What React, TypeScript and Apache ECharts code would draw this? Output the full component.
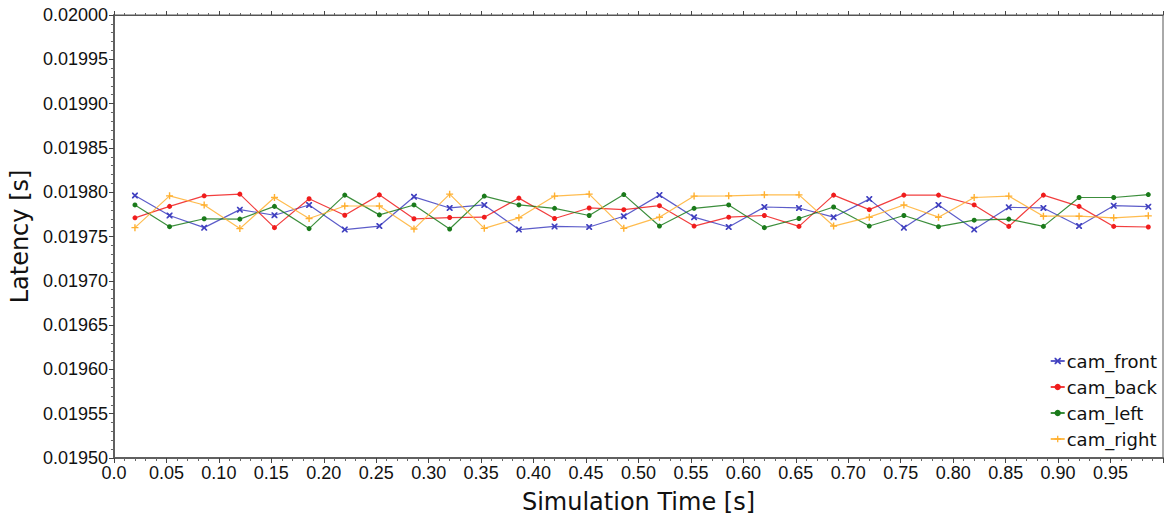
import React, { useEffect, useRef } from "react";
import * as echarts from "echarts";

const times = [
  0.020, 0.053, 0.086, 0.120, 0.153, 0.186, 0.220, 0.253, 0.286, 0.320,
  0.353, 0.386, 0.420, 0.453, 0.486, 0.520, 0.553, 0.586, 0.620, 0.653,
  0.686, 0.720, 0.753, 0.786, 0.820, 0.853, 0.886, 0.920, 0.953, 0.986,
];

const camFront = [
  0.0197962, 0.0197737, 0.0197600, 0.0197803, 0.0197740, 0.0197856, 0.0197578, 0.0197618, 0.0197948, 0.0197822,
  0.0197856, 0.0197578, 0.0197614, 0.0197607, 0.0197729, 0.0197967, 0.0197718, 0.0197607, 0.0197833, 0.0197822,
  0.0197718, 0.0197922, 0.0197600, 0.0197856, 0.0197578, 0.0197829, 0.0197822, 0.0197618, 0.0197848, 0.0197837,
];

const camBack = [
  0.0197711, 0.0197840, 0.0197959, 0.0197978, 0.0197600, 0.0197926, 0.0197740, 0.0197970, 0.0197700, 0.0197714,
  0.0197718, 0.0197933, 0.0197703, 0.0197822, 0.0197803, 0.0197848, 0.0197618, 0.0197718, 0.0197737, 0.0197614,
  0.0197967, 0.0197803, 0.0197967, 0.0197967, 0.0197856, 0.0197614, 0.0197967, 0.0197840, 0.0197614, 0.0197607,
];

const camLeft = [
  0.0197856, 0.0197611, 0.0197700, 0.0197696, 0.0197840, 0.0197589, 0.0197967, 0.0197744, 0.0197856, 0.0197584,
  0.0197956, 0.0197856, 0.0197818, 0.0197737, 0.0197973, 0.0197618, 0.0197818, 0.0197856, 0.0197600, 0.0197703,
  0.0197833, 0.0197618, 0.0197737, 0.0197611, 0.0197684, 0.0197696, 0.0197614, 0.0197940, 0.0197940, 0.0197973,
];

const camRight = [
  0.0197600, 0.0197959, 0.0197856, 0.0197589, 0.0197940, 0.0197703, 0.0197844, 0.0197844, 0.0197584, 0.0197978,
  0.0197592, 0.0197711, 0.0197956, 0.0197978, 0.0197592, 0.0197718, 0.0197956, 0.0197959, 0.0197970, 0.0197970,
  0.0197618, 0.0197718, 0.0197856, 0.0197718, 0.0197940, 0.0197956, 0.0197729, 0.0197729, 0.0197711, 0.0197733,
];

const seriesNames = ["cam_front", "cam_back", "cam_left", "cam_right"];
const seriesColors = ["#4040c0", "#f01c1c", "#1a7a1a", "#ffb030"];

const X_SYMBOL =
  "path://M0,0 L2,0 L5,3 L8,0 L10,0 L10,2 L7,5 L10,8 L10,10 L8,10 L5,7 L2,10 L0,10 L0,8 L3,5 L0,2 Z";
const PLUS_SYMBOL = "path://M4,0 H6 V4 H10 V6 H6 V10 H4 V6 H0 V4 H4 Z";

export default function App() {
  const ref = useRef<HTMLDivElement>(null);

  useEffect(() => {
    if (!ref.current) return;
    const chart = echarts.init(ref.current, null, { renderer: "svg" });
    const allData = [camFront, camBack, camLeft, camRight];
    const symbols = [X_SYMBOL, "circle", "circle", PLUS_SYMBOL];
    const sizes = [6, 5, 5, 7];
    const tickFont = "Liberation Sans";
    const titleFont = "DejaVu Sans";

    const option: any = {
      animation: false,
      backgroundColor: "#ffffff",
      grid: {
        left: 108,
        right: 3,
        top: 15,
        bottom: 59,
        show: true,
        borderColor: "#555555",
        borderWidth: 1,
        backgroundColor: "transparent",
      },
      legend: {
        orient: "vertical",
        right: 4,
        top: 346,
        itemGap: 6,
        itemWidth: 14,
        itemHeight: 8,
        align: "left",
        textStyle: {
          fontFamily: titleFont,
          fontSize: 18,
          color: "#111111",
          lineHeight: 20,
          padding: [0, 0, 0, -3],
        },
        data: seriesNames,
      },
      xAxis: [
        {
          type: "value",
          position: "bottom",
          min: 0,
          max: 1,
          interval: 0.05,
          name: "Simulation Time [s]",
          nameLocation: "middle",
          nameGap: 32,
          nameTextStyle: { fontFamily: titleFont, fontSize: 24, color: "#111111" },
          axisLine: { show: true, onZero: false, lineStyle: { color: "#606060", width: 2 } },
          axisTick: { show: true, inside: false, length: 5, lineStyle: { color: "#444444" } },
          minorTick: { show: true, splitNumber: 5, length: 3, lineStyle: { color: "#666666" } },
          splitLine: { show: false },
          axisLabel: {
            fontFamily: tickFont,
            fontSize: 18,
            color: "#111111",
            margin: 6,
            showMaxLabel: false,
            formatter: (v: number) => {
              if (v >= 0.999) return "";
              if (v === 0) return "0.0";
              return v.toFixed(2);
            },
          },
        },
        {
          type: "value",
          position: "top",
          min: 0,
          max: 1,
          interval: 0.05,
          axisLine: { show: true, onZero: false, lineStyle: { color: "#555555", width: 1 } },
          axisTick: { show: true, inside: false, length: 4, lineStyle: { color: "#444444" } },
          minorTick: { show: true, splitNumber: 5, length: 2, lineStyle: { color: "#666666" } },
          splitLine: { show: false },
          axisLabel: { show: false },
        },
      ],
      yAxis: {
        type: "value",
        min: 0.0195,
        max: 0.02,
        interval: 0.00005,
        name: "Latency [s]",
        nameLocation: "middle",
        nameGap: 75,
        nameRotate: 90,
        nameTextStyle: { fontFamily: titleFont, fontSize: 24, color: "#111111" },
        axisLine: { show: true, lineStyle: { color: "#606060", width: 2 } },
        axisTick: { show: true, inside: false, length: 5, lineStyle: { color: "#444444" } },
        minorTick: { show: true, splitNumber: 5, length: 3, lineStyle: { color: "#666666" } },
        splitLine: { show: false },
        axisLabel: {
          fontFamily: tickFont,
          fontSize: 18,
          color: "#111111",
          margin: 6,
          formatter: (v: number) => v.toFixed(5),
        },
      },
      series: seriesNames.map((name, k) => ({
        name,
        type: "line",
        xAxisIndex: 0,
        data: times.map((t, i) => [t, allData[k][i]]),
        symbol: symbols[k],
        symbolSize: sizes[k],
        showAllSymbol: true,
        itemStyle: { color: seriesColors[k] },
        lineStyle: { color: seriesColors[k], width: 1.2, opacity: 0.85 },
        emphasis: { disabled: true },
      })),
    };

    chart.setOption(option);
    return () => {
      chart.dispose();
    };
  }, []);

  return (
    <div
      ref={ref}
      style={{ position: "fixed", left: 0, top: 0, width: 1166, height: 519 }}
    />
  );
}
